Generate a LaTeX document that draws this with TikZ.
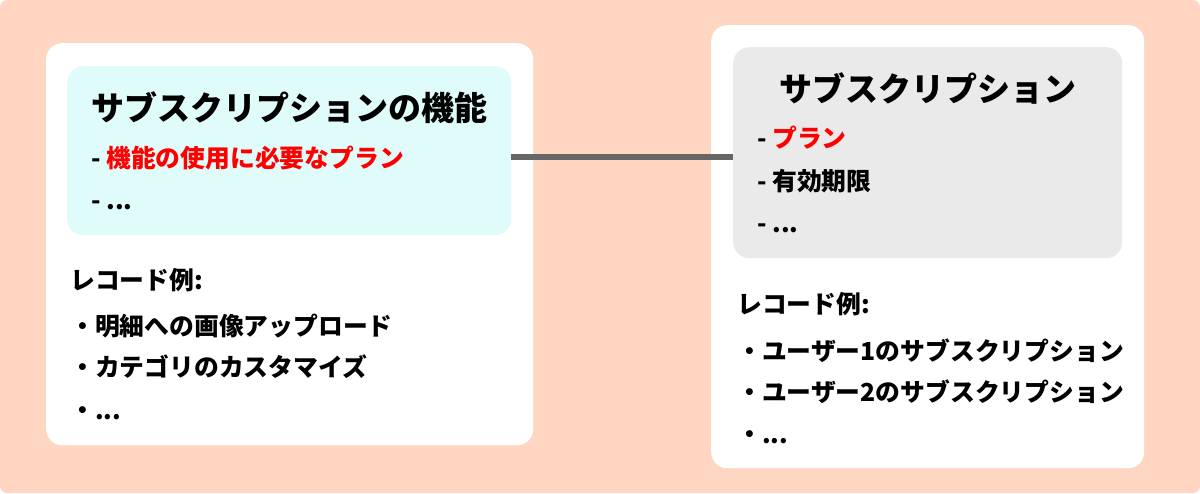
\documentclass[tikz,border=0pt]{standalone}
\usepackage{fontspec}
\setmainfont{Noto Sans CJK JP}
\usepackage{tikz}
\usetikzlibrary{positioning}
\definecolor{PeachBg}{RGB}{255,214,194}
\definecolor{FeatFill}{RGB}{223,252,250}
\definecolor{SubFill}{RGB}{234,234,234}
\definecolor{LinkGray}{RGB}{102,102,102}
\definecolor{PlanRed}{RGB}{255,0,0}

\begin{document}
\begin{tikzpicture}[x=1pt, y=-1pt,
    card/.style={fill=white, rounded corners=16pt, inner sep=0pt, anchor=north west},
    panel/.style={rounded corners=16pt, inner sep=0pt, anchor=north west},
    txt/.style={anchor=base west, inner sep=0pt, font=\fontsize{24.8}{29}\selectfont\bfseries},
    ttl/.style={inner sep=0pt, font=\fontsize{33}{38}\selectfont\bfseries}]
      \useasboundingbox (0,0) rectangle (1200,493);
      \fill[white] (0,0) rectangle (1200,493);
      \fill[PeachBg, rounded corners=7pt] (0,0) rectangle (1200,493);
      % cards
      \node[card, minimum width=487pt, minimum height=402pt] (featcard) at (46,43) {};
      \node[card, minimum width=433pt, minimum height=443pt] (subcard) at (711,25) {};
      \node[panel, fill=FeatFill, minimum width=444pt, minimum height=169pt] (featpanel) at (67,66) {};
      \node[panel, fill=SubFill, minimum width=389pt, minimum height=211pt] (subpanel) at (733,47) {};
      % link
      \coordinate (linky) at (0,157);
      \draw[LinkGray, line width=6pt] (featpanel.east |- linky) -- (subpanel.west |- linky);
      % left texts
      \node[ttl, anchor=base west] (feattitle) at (91,120) {サブスクリプションの機能};
      \node[txt] (featplan) at (91,167) {- \textcolor{PlanRed}{機能の使用に必要なプラン}};
      \node[txt] (featmore) at (91,209) {- ...};
      \node[txt] (featrec) at (70,289) {レコード例:};
      \node[txt] (featrec1) at (70,335) {・明細への画像アップロード};
      \node[txt] (featrec2) at (70,376) {・カテゴリのカスタマイズ};
      \node[txt] (featrec3) at (70,419) {・...};
      % right texts
      \node[ttl, anchor=base] (subtitle) at (927.5,101.5) {サブスクリプション};
      \node[txt] (subplan) at (757,147) {- \textcolor{PlanRed}{プラン}};
      \node[txt] (subexp) at (757,190) {- 有効期限};
      \node[txt] (submore) at (757,232) {- ...};
      \node[txt] (subrec) at (737,313) {レコード例:};
      \node[txt] (subrec1) at (737,360) {・ユーザー1のサブスクリプション};
      \node[txt] (subrec2) at (737,401) {・ユーザー2のサブスクリプション};
      \node[txt] (subrec3) at (737,443) {・...};
\end{tikzpicture}
\end{document}
